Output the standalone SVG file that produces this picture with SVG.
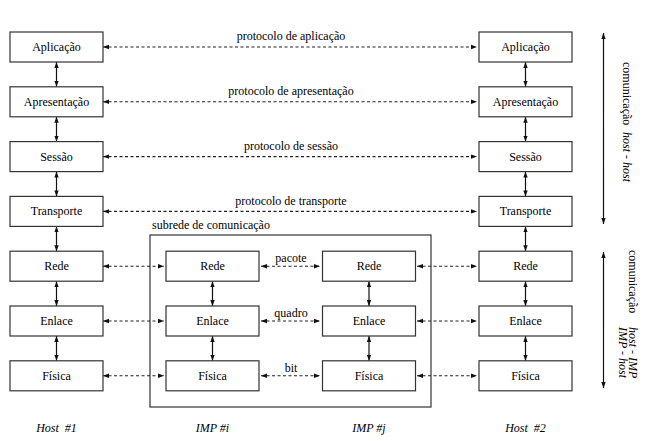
<svg xmlns="http://www.w3.org/2000/svg" width="653" height="441" viewBox="0 0 653 441">
<style>
.box{fill:#fff;stroke:#333;stroke-width:1.2}
.t{font-family:"Liberation Serif","Times New Roman",serif;font-size:12px;fill:#000}
.c{text-anchor:middle}
.i{font-style:italic}
.d{stroke:#222;stroke-width:1.1;stroke-dasharray:3 2.5;fill:none;marker-start:url(#ah);marker-end:url(#ah)}
.s{stroke:#111;stroke-width:1.2;fill:none;marker-start:url(#ah);marker-end:url(#ah)}
</style>
<defs>
<marker id="ah" viewBox="0 0 6 6" refX="6" refY="3" markerWidth="6" markerHeight="6" markerUnits="userSpaceOnUse" orient="auto-start-reverse">
<path d="M0,0.8 L6,3 L0,5.2 z" fill="#111"/>
</marker>
</defs>
<rect x="0" y="0" width="653" height="441" fill="#fff"/>
<g id="subnet">
<rect x="150" y="235" width="281" height="172" fill="none" stroke="#333" stroke-width="1.2"/>
<text class="t" x="152" y="229">subrede de comunicação</text>
</g>
<g id="connectors">
<line class="d" x1="103" y1="47" x2="477" y2="47"/>
<line class="d" x1="103" y1="101.8" x2="477" y2="101.8"/>
<line class="d" x1="103" y1="156.6" x2="477" y2="156.6"/>
<line class="d" x1="103" y1="211.4" x2="477" y2="211.4"/>
<line class="d" x1="103" y1="266.2" x2="164" y2="266.2"/>
<line class="d" x1="261" y1="266.2" x2="320" y2="266.2"/>
<line class="d" x1="417" y1="266.2" x2="477" y2="266.2"/>
<line class="d" x1="103" y1="321" x2="164" y2="321"/>
<line class="d" x1="261" y1="321" x2="320" y2="321"/>
<line class="d" x1="417" y1="321" x2="477" y2="321"/>
<line class="d" x1="103" y1="375.8" x2="164" y2="375.8"/>
<line class="d" x1="261" y1="375.8" x2="320" y2="375.8"/>
<line class="d" x1="417" y1="375.8" x2="477" y2="375.8"/>
<line class="s" x1="56.5" y1="62" x2="56.5" y2="86.8"/>
<line class="s" x1="56.5" y1="116.8" x2="56.5" y2="141.6"/>
<line class="s" x1="56.5" y1="171.6" x2="56.5" y2="196.4"/>
<line class="s" x1="56.5" y1="226.4" x2="56.5" y2="251.2"/>
<line class="s" x1="56.5" y1="281.2" x2="56.5" y2="306"/>
<line class="s" x1="56.5" y1="336" x2="56.5" y2="360.8"/>
<line class="s" x1="525.5" y1="62" x2="525.5" y2="86.8"/>
<line class="s" x1="525.5" y1="116.8" x2="525.5" y2="141.6"/>
<line class="s" x1="525.5" y1="171.6" x2="525.5" y2="196.4"/>
<line class="s" x1="525.5" y1="226.4" x2="525.5" y2="251.2"/>
<line class="s" x1="525.5" y1="281.2" x2="525.5" y2="306"/>
<line class="s" x1="525.5" y1="336" x2="525.5" y2="360.8"/>
<line class="s" x1="212.5" y1="281.2" x2="212.5" y2="306"/>
<line class="s" x1="212.5" y1="336" x2="212.5" y2="360.8"/>
<line class="s" x1="369" y1="281.2" x2="369" y2="306"/>
<line class="s" x1="369" y1="336" x2="369" y2="360.8"/>
<line class="s" x1="603.5" y1="33" x2="603.5" y2="224"/>
<line class="s" x1="603.5" y1="252" x2="603.5" y2="388"/>
<text class="t c" x="291" y="40">protocolo de aplicação</text>
<text class="t c" x="291" y="95">protocolo de apresentação</text>
<text class="t c" x="291" y="149.5">protocolo de sessão</text>
<text class="t c" x="291" y="204.5">protocolo de transporte</text>
<text class="t c" x="291" y="262">pacote</text>
<text class="t c" x="291" y="317">quadro</text>
<text class="t c" x="291" y="372">bit</text>
</g>
<g id="host1">
<rect class="box" x="10" y="32" width="93" height="30"/><text class="t c" x="56.5" y="51">Aplicação</text>
<rect class="box" x="10" y="86.8" width="93" height="30"/><text class="t c" x="56.5" y="105.8">Apresentação</text>
<rect class="box" x="10" y="141.6" width="93" height="30"/><text class="t c" x="56.5" y="160.6">Sessão</text>
<rect class="box" x="10" y="196.4" width="93" height="30"/><text class="t c" x="56.5" y="215.4">Transporte</text>
<rect class="box" x="10" y="251.2" width="93" height="30"/><text class="t c" x="56.5" y="270.2">Rede</text>
<rect class="box" x="10" y="306" width="93" height="30"/><text class="t c" x="56.5" y="325">Enlace</text>
<rect class="box" x="10" y="360.8" width="93" height="30"/><text class="t c" x="56.5" y="379.8">Física</text>
<text class="t c i" x="56.5" y="432">Host&#160; #1</text>
</g>
<g id="impi">
<rect class="box" x="166" y="251.2" width="93" height="30"/><text class="t c" x="212.5" y="270.2">Rede</text>
<rect class="box" x="166" y="306" width="93" height="30"/><text class="t c" x="212.5" y="325">Enlace</text>
<rect class="box" x="166" y="360.8" width="93" height="30"/><text class="t c" x="212.5" y="379.8">Física</text>
<text class="t c i" x="212.5" y="432">IMP #i</text>
</g>
<g id="impj">
<rect class="box" x="322.5" y="251.2" width="93" height="30"/><text class="t c" x="369" y="270.2">Rede</text>
<rect class="box" x="322.5" y="306" width="93" height="30"/><text class="t c" x="369" y="325">Enlace</text>
<rect class="box" x="322.5" y="360.8" width="93" height="30"/><text class="t c" x="369" y="379.8">Física</text>
<text class="t c i" x="369" y="432">IMP #j</text>
</g>
<g id="host2">
<rect class="box" x="479" y="32" width="93" height="30"/><text class="t c" x="525.5" y="51">Aplicação</text>
<rect class="box" x="479" y="86.8" width="93" height="30"/><text class="t c" x="525.5" y="105.8">Apresentação</text>
<rect class="box" x="479" y="141.6" width="93" height="30"/><text class="t c" x="525.5" y="160.6">Sessão</text>
<rect class="box" x="479" y="196.4" width="93" height="30"/><text class="t c" x="525.5" y="215.4">Transporte</text>
<rect class="box" x="479" y="251.2" width="93" height="30"/><text class="t c" x="525.5" y="270.2">Rede</text>
<rect class="box" x="479" y="306" width="93" height="30"/><text class="t c" x="525.5" y="325">Enlace</text>
<rect class="box" x="479" y="360.8" width="93" height="30"/><text class="t c" x="525.5" y="379.8">Física</text>
<text class="t c i" x="525.5" y="432">Host&#160; #2</text>
</g>
<g id="scope-labels">
<text class="t" transform="translate(623,62) rotate(90)">comunicação<tspan class="i" x="70">host - host</tspan></text>
<text class="t" transform="translate(629,250) rotate(90)">comunicação<tspan class="i" x="77">host - IMP</tspan></text>
<text class="t i" transform="translate(619,327) rotate(90)">IMP - host</text>
</g>
</svg>
